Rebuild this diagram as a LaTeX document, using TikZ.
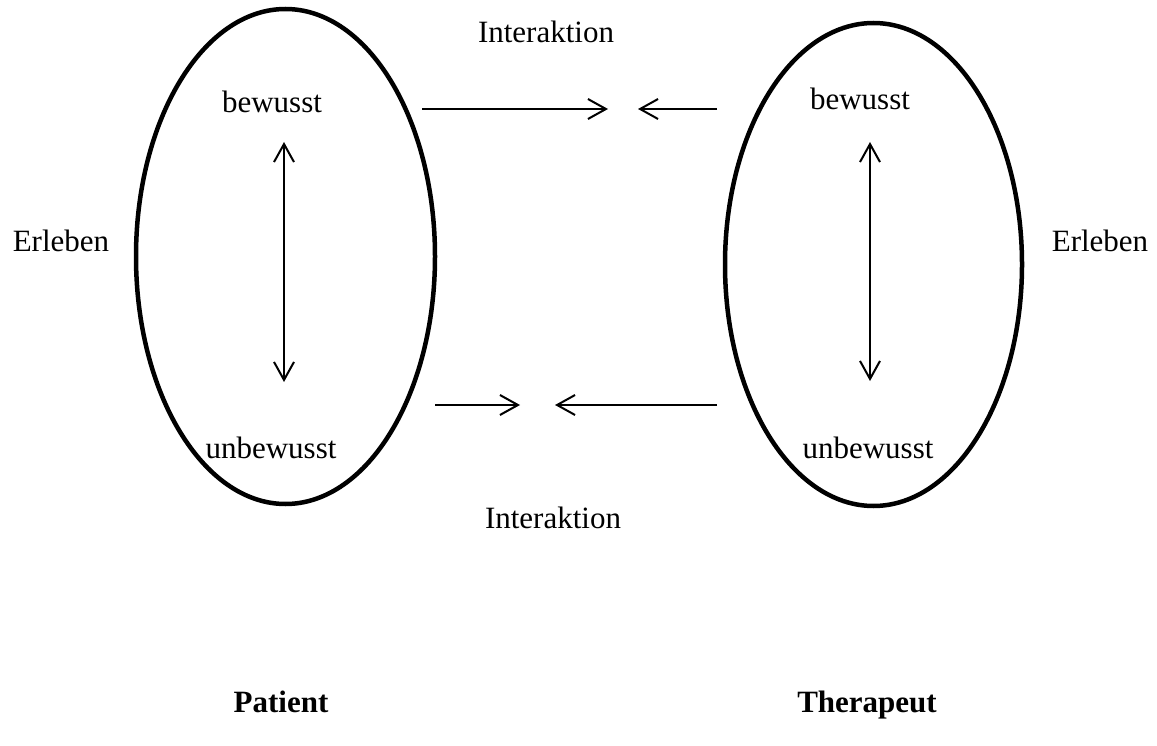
\documentclass[tikz,border=0pt]{standalone}
\usepackage{fontspec}
\setmainfont{Liberation Serif}
\usetikzlibrary{shapes}
\usetikzlibrary{arrows.meta}
\usetikzlibrary{positioning}

\begin{document}
\begin{tikzpicture}[x = 1pt, y = -1pt, black, line width = 2pt,
    font = \fontsize{31}{37}\selectfont,
    >= {Straight Barb[length = 18pt, width = 20pt]}]

    \useasboundingbox (0,0) rectangle (1157,746);

    % the two persons
    \node (P) at (285.5,256.5) [ellipse, draw, line width = 4.5pt, inner sep = 0, minimum width = 299, minimum height = 495] {};
    \node (T) at (873.5,264.5) [ellipse, draw, line width = 4.5pt, inner sep = 0, minimum width = 297, minimum height = 483] {};

    \begin{scope}[anchor = base]
        \node (PB) at (272,113) {bewusst};
        \node (PU) at (271,458) {unbewusst};
        \node (TB) at (860,110) {bewusst};
        \node (TU) at (868,458) {unbewusst};

        \node (E1) at (61,252) {Erleben};
        \node (E2) at (1100,252) {Erleben};

        \node (I1) at (546,43) {Interaktion};
        \node (I2) at (553,528) {Interaktion};

        \node (N1) at (281,712) {\textbf{Patient}};
        \node (N2) at (867,712) {\textbf{Therapeut}};
    \end{scope}

    % arrow ends
    \coordinate (P1) at (284,142);
    \coordinate (P2) at (284,382);
    \coordinate (T1) at (870,142);
    \coordinate (T2) at (870,381);

    \coordinate (A1) at (422,109);
    \coordinate (A2) at (608,109);
    \coordinate (A3) at (717,109);
    \coordinate (A4) at (638,109);

    \coordinate (B1) at (435,405);
    \coordinate (B2) at (520,405);
    \coordinate (B3) at (717,405);
    \coordinate (B4) at (555,405);

    \draw[<->] (P1) -- (P2);
    \draw[<->] (T1) -- (T2);

    \draw[->] (A1) -- (A2);
    \draw[->] (A3) -- (A4);
    \draw[->] (B1) -- (B2);
    \draw[->] (B3) -- (B4);

\end{tikzpicture}
\end{document}
